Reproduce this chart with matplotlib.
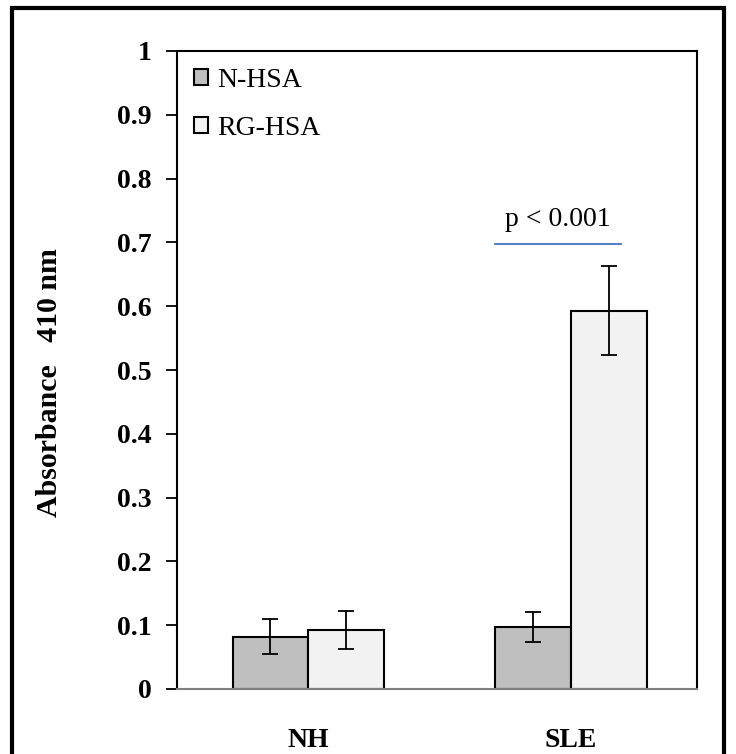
import numpy as np
import matplotlib
matplotlib.use("Agg")
import matplotlib.pyplot as plt
from matplotlib.patches import Rectangle

plt.rcParams['font.family'] = ['Liberation Serif', 'DejaVu Serif']

groups = ['NH', 'SLE']
series = ['N-HSA', 'RG-HSA']
n_hsa = [0.082, 0.097]
n_hsa_err = [0.027, 0.023]
rg_hsa = [0.093, 0.593]
rg_hsa_err = [0.030, 0.070]
yticks = [0, 0.1, 0.2, 0.3, 0.4, 0.5, 0.6, 0.7, 0.8, 0.9, 1]
ytick_labels = ['0', '0.1', '0.2', '0.3', '0.4', '0.5', '0.6', '0.7', '0.8', '0.9', '1']
p_text = 'p < 0.001'
p_level = 0.697

fig = plt.figure(figsize=(7.36, 7.54), dpi=100)
ax = fig.add_axes([177/736, 1-689/754, 520/736, 638/754])

x = np.arange(len(groups))
w = 0.288
ekw = dict(ecolor='black', elinewidth=1.3, capsize=6, capthick=1.3)
ax.bar(x - w/2, n_hsa, w, yerr=n_hsa_err, color='#BFBFBF', edgecolor='black',
       linewidth=1.5, label=series[0], error_kw=ekw, zorder=2)
ax.bar(x + w/2, rg_hsa, w, yerr=rg_hsa_err, color='#F2F2F2', edgecolor='black',
       linewidth=1.5, label=series[1], error_kw=ekw, zorder=2)

ax.set_xlim(-0.5, 1.48)
ax.set_ylim(0, 1)
ax.set_yticks(yticks)
ax.set_yticklabels(ytick_labels, fontsize=20, fontweight='bold')
ax.set_xticks(x)
ax.set_xticklabels(groups, fontsize=20, fontweight='bold')
ax.tick_params(axis='x', length=0, pad=28)
ax.tick_params(axis='y', direction='out', length=8, width=1.3, pad=10)
ax.set_ylabel('Absorbance   410 nm', fontsize=21.5, fontweight='bold')
ax.yaxis.set_label_coords(-0.22, 0.481)

for s in ['left', 'top', 'right']:
    ax.spines[s].set_linewidth(1.5)
    ax.spines[s].set_color('black')
ax.spines['bottom'].set_color('#808080')
ax.spines['bottom'].set_linewidth(1.5)

# significance line
ax.plot([1 - w, 1 + 0.19], [p_level, p_level], color='#4472C4', lw=1.3, zorder=3)
ax.text(1 - 0.05, p_level + 0.02, p_text, ha='center', va='bottom', fontsize=20)

ax.legend(loc='upper left', frameon=False, fontsize=20, handlelength=0.5,
          handleheight=0.5, handletextpad=0.35, borderaxespad=0.3,
          labelspacing=0.85, borderpad=0.3)

# outer border
fig.patches.append(Rectangle((12/736, -0.01), 712/736, 1 - 8/754 + 0.01,
                             transform=fig.transFigure, fill=False,
                             edgecolor='black', linewidth=3))

fig.savefig('out.png', dpi=100)
